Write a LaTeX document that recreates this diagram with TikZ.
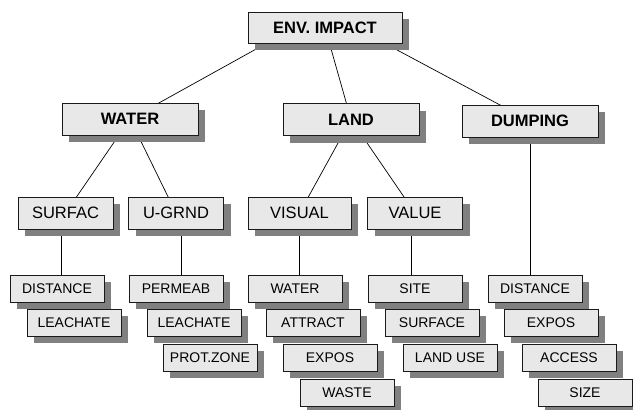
\documentclass[tikz,border=0pt]{standalone}
\usepackage{fontspec}
\setmainfont{Liberation Sans}
\usetikzlibrary{shadows,backgrounds}
\definecolor{boxfill}{HTML}{E8E8E8}
\definecolor{shade}{HTML}{808080}
\definecolor{edge}{HTML}{1A1A1A}
\begin{document}
\begin{tikzpicture}[x=1pt,y=-1pt,
  box/.style={draw=edge, line width=0.8pt, fill=boxfill, inner sep=0pt,
    drop shadow={shadow xshift=7pt, shadow yshift=-7pt, fill=shade, opacity=1}},
  topbox/.style={box, minimum width=136pt, minimum height=32pt, font=\fontsize{16.5}{19}\selectfont\bfseries},
  midbox/.style={box, minimum width=95pt, minimum height=32pt, font=\fontsize{16.5}{19}\selectfont},
  leafbox/.style={box, minimum width=94pt, minimum height=27pt, font=\fontsize{14}{17}\selectfont},
  link/.style={draw=black, line width=0.7pt}]
\useasboundingbox (0,0) rectangle (633,410);
% top
\node[topbox, minimum width=154pt, minimum height=31pt] (env) at (325,27.5) {ENV. IMPACT};
\node[topbox] (water) at (130,119) {WATER};
\node[topbox] (land) at (351,119.5) {LAND};
\node[topbox] (dump) at (530,121) {DUMPING};
% level 2
\node[midbox] (surfac) at (65.5,213) {SURFAC};
\node[midbox] (ugrnd) at (176,213) {U-GRND};
\node[midbox, minimum width=103pt] (visual) at (299.5,213) {VISUAL};
\node[midbox] (value) at (415,213) {VALUE};
% leaves SURFAC
\node[leafbox] (s1) at (57,288.5) {DISTANCE};
\node[leafbox] (s2) at (74,322.5) {LEACHATE};
% leaves U-GRND
\node[leafbox] (u1) at (176,288.5) {PERMEAB};
\node[leafbox] (u2) at (194,322.5) {LEACHATE};
\node[leafbox] (u3) at (210,357.5) {PROT.ZONE};
% leaves VISUAL
\node[leafbox] (v1) at (295,288.5) {WATER};
\node[leafbox] (v2) at (313,322.5) {ATTRACT};
\node[leafbox] (v3) at (330,357.5) {EXPOS};
\node[leafbox] (v4) at (347,392.5) {WASTE};
% leaves VALUE
\node[leafbox] (a1) at (415,288.5) {SITE};
\node[leafbox] (a2) at (432,322.5) {SURFACE};
\node[leafbox] (a3) at (450,357.5) {LAND USE};
% leaves DUMPING
\node[leafbox] (d1) at (535,288.5) {DISTANCE};
\node[leafbox] (d2) at (551,322.5) {EXPOS};
\node[leafbox] (d3) at (569,357.5) {ACCESS};
\node[leafbox] (d4) at (585,392.5) {SIZE};
\begin{pgfonlayer}{background}
\draw[link] ([xshift=-30pt]env.center) -- (water.center);
\draw[link] (env.center) -- (land.center);
\draw[link] ([xshift=30pt]env.center) -- (dump.center);
\draw[link] (water.center) -- (surfac.center);
\draw[link] (water.center) -- (ugrnd.center);
\draw[link] (land.center) -- (visual.center);
\draw[link] (land.center) -- (value.center);
\draw[link] ([xshift=-4.5pt]surfac.center) -- ([xshift=-4.5pt]surfac.center |- s1.north);
\draw[link] ([xshift=5pt]ugrnd.center) -- ([xshift=5pt]ugrnd.center |- u1.north);
\draw[link] (visual.center) -- (visual.center |- v1.north);
\draw[link] ([xshift=-4pt]value.center) -- ([xshift=-4pt]value.center |- a1.north);
\draw[link] (dump.center) -- (dump.center |- d1.north);
\end{pgfonlayer}
\end{tikzpicture}
\end{document}
